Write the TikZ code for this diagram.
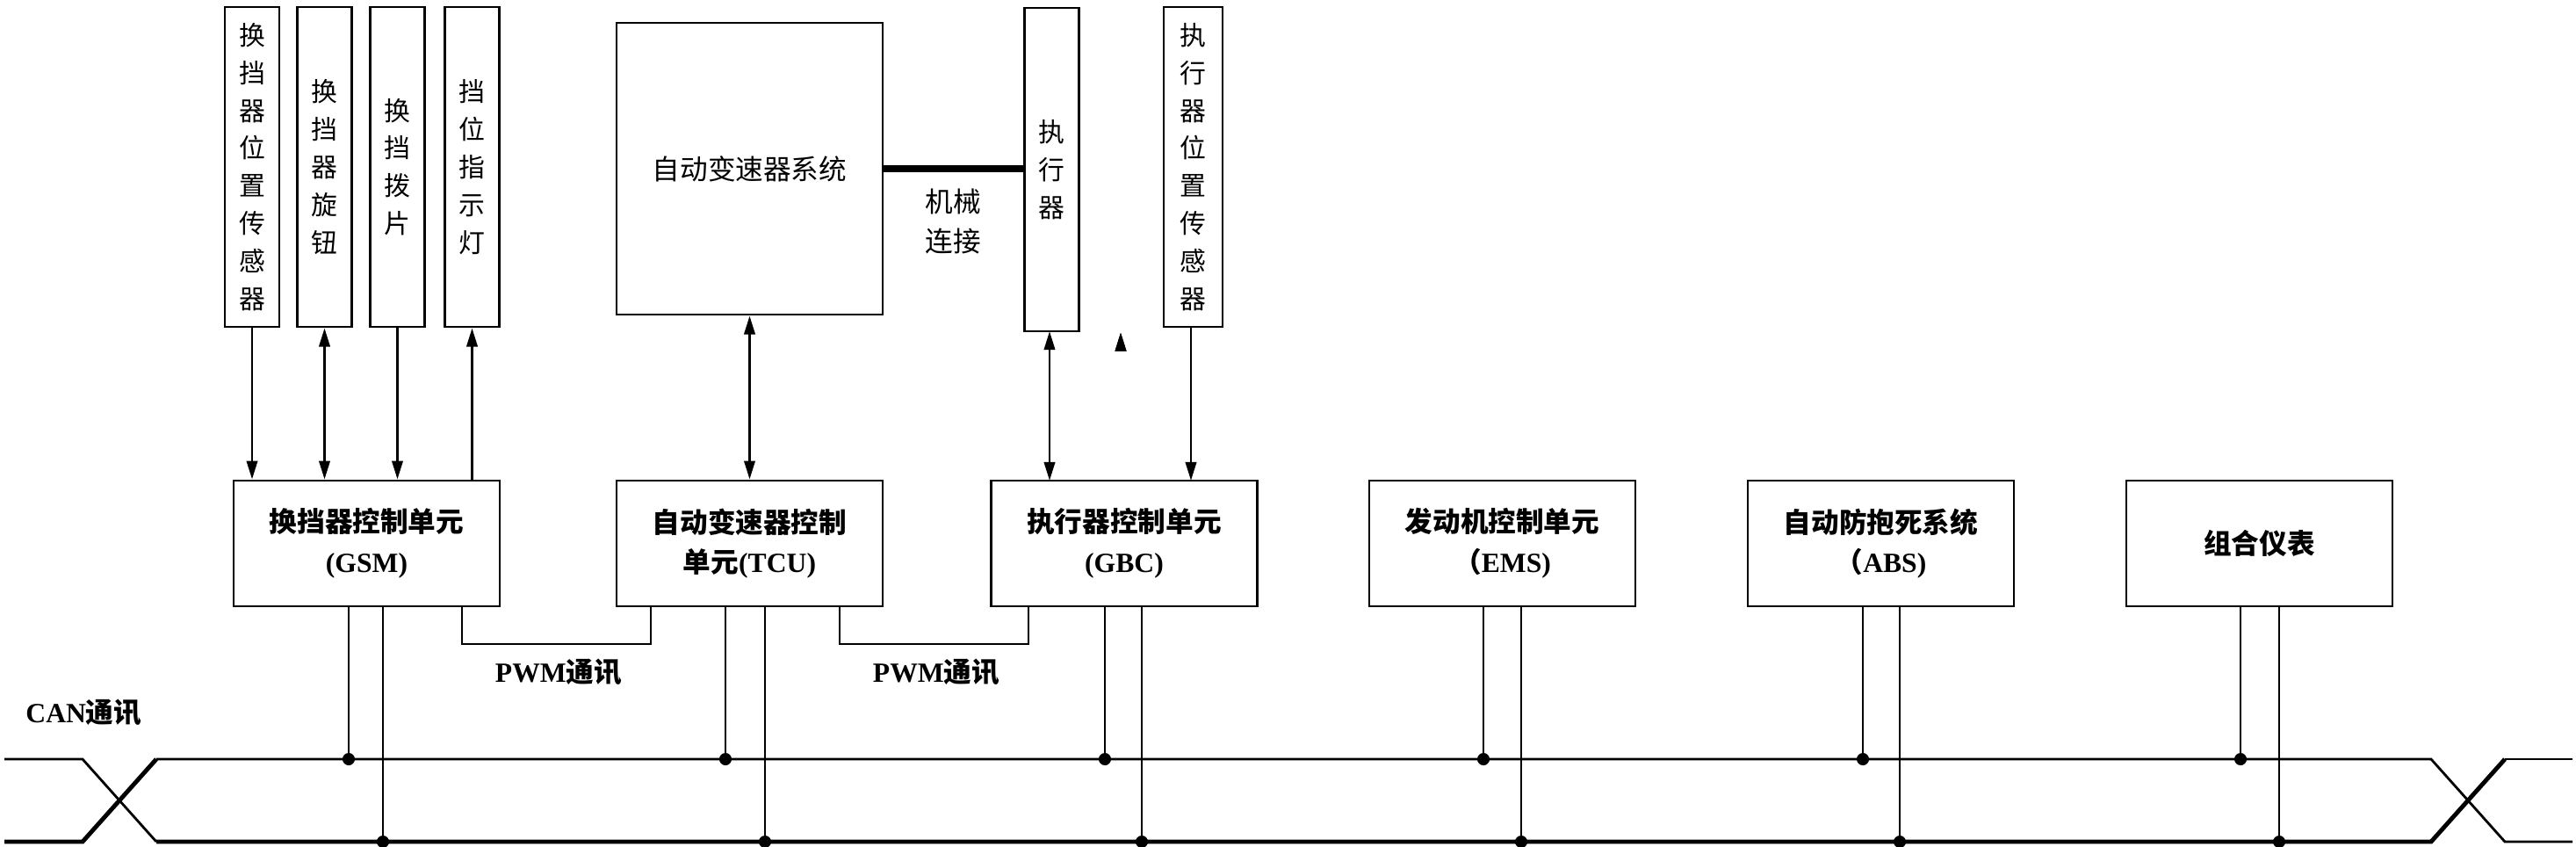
\documentclass[tikz,border=0pt]{standalone}
\usepackage{fontspec}
\setmainfont{Liberation Serif}
\newfontfamily\cjk{Noto Sans CJK SC}
\usetikzlibrary{arrows.meta}
\newcommand{\zh}[1]{{\cjk #1}}
\begin{document}
\begin{tikzpicture}[x=1cm,y=-1cm, font=\fontsize{9}{13}\selectfont\bfseries,
    box/.style = {draw, thick, inner sep=0pt, align=center},
    vbox/.style = {box, minimum width=0.62cm, minimum height=3.64cm, font=\fontsize{8.5}{12.2}\selectfont\cjk},
    unit/.style = {box, minimum width=3.03cm, minimum height=1.43cm},
    arr/.style = {thick, -{Triangle[length=6pt,width=3.5pt]}},
    darr/.style = {thick, {Triangle[length=6pt,width=3.5pt]}-{Triangle[length=6pt,width=3.5pt]}},
    bus/.style = {thick},
    tap/.style = {thick},
    dot/.style = {circle, fill, inner sep=0pt, minimum size=4pt}]
\useasboundingbox (0,0) rectangle (29.33,9.63);
% sensors and actuator
\node[vbox] (s1) at (2.87,1.90) {换\\挡\\器\\位\\置\\传\\感\\器};
\node[vbox] (s2) at (3.695,1.90) {换\\挡\\器\\旋\\钮};
\node[vbox] (s3) at (4.525,1.90) {换\\挡\\拨\\片};
\node[vbox] (s4) at (5.375,1.90) {挡\\位\\指\\示\\灯};
\node[box, minimum width=3.03cm, minimum height=3.32cm, font=\fontsize{9}{13}\selectfont\cjk] (ats) at (8.535,1.92) {自动变速器系统};
\node[vbox, minimum height=3.68cm] (act) at (11.975,1.93) {执\\行\\器};
\node[vbox, minimum width=0.67cm] (s5) at (13.585,1.90) {执\\行\\器\\位\\置\\传\\感\\器};
\node[font=\fontsize{9}{13}\selectfont\cjk, align=center] (mech) at (10.85,2.52) {机械\\连接};
% control units
\node[unit] (gsm) at (4.175,6.185) {\zh{换挡器控制单元}\\(GSM)};
\node[unit] (tcu) at (8.535,6.185) {\zh{自动变速器控制}\\\zh{单元}(TCU)};
\node[unit] (gbc) at (12.80,6.185) {\zh{执行器控制单元}\\(GBC)};
\node[unit] (ems) at (17.105,6.185) {\zh{发动机控制单元}\\\zh{（}EMS)};
\node[unit] (abs) at (21.415,6.185) {\zh{自动防抱死系统}\\\zh{（}ABS)};
\node[unit] (ic) at (25.725,6.185) {\zh{组合仪表}};
% labels
\node (pwm1) at (6.36,7.65) {PWM\zh{通讯}};
\node (pwm2) at (10.66,7.65) {PWM\zh{通讯}};
\node[anchor=west] (can) at (0.17,8.11) {CAN\zh{通讯}};
% sensor links
\draw[arr] (s1.south) -- (s1.south |- gsm.north);
\draw[darr] (s2.south) -- (s2.south |- gsm.north);
\draw[arr] (s3.south) -- (s3.south |- gsm.north);
\draw[arr] (s4.south |- gsm.north) -- (s4.south);
\draw[darr] (ats.south) -- (tcu.north);
\draw[darr] (act.south -| gbc.north) ++(-0.04,0) coordinate (a1);
\draw[darr] (11.95,3.77) -- (11.95,5.47);
\draw[arr] (s5.south -| 13.56,0) -- (13.56,5.47);
\draw[line width=2.5pt] (ats.east) -- (ats.east -| act.west);
% PWM links
\coordinate (p1) at (5.26,7.33);
\coordinate (p2) at (7.41,7.33);
\coordinate (p3) at (9.56,7.33);
\coordinate (p4) at (11.71,7.33);
\draw[thin] (gsm.south -| p1) -- (p1) -- (p2) -- (tcu.south -| p2);
\draw[thin] (tcu.south -| p3) -- (p3) -- (p4) -- (gbc.south -| p4);
% CAN bus
\draw[bus] (0.05,8.64) -- (0.94,8.64) -- (1.78,9.58);
\draw[bus] (1.78,8.64) -- (27.68,8.64) -- (28.52,9.58) -- (29.29,9.58);
\draw[bus, line width=1.4pt] (0.05,9.58) -- (0.94,9.58) -- (1.78,8.64);
\draw[bus, line width=1.4pt] (1.78,9.58) -- (27.68,9.58) -- (28.52,8.64);
\draw[bus] (28.52,8.64) -- (29.29,8.64);
\foreach \n/\a/\b in {gsm/3.97/4.36, tcu/8.26/8.71, gbc/12.58/13.00, ems/16.89/17.32, abs/21.21/21.63, ic/25.51/25.95} {
  \coordinate (\n H) at (\a,8.64);
  \coordinate (\n L) at (\b,9.58);
  \draw[tap] (\n.south -| \n H) -- (\n H) node[dot] {};
  \draw[tap] (\n.south -| \n L) -- (\n L) node[dot] {};
}
\end{tikzpicture}
\end{document}
